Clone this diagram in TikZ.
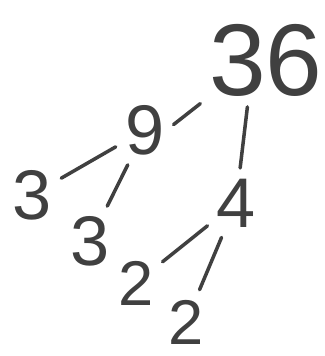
\documentclass[tikz,border=0pt]{standalone}
\usepackage{fontspec}
\setmainfont{Liberation Sans}
\usepackage{tikz}

\tikzset{
  num/.style={text=black!75, inner sep=1pt, font=\fontsize{40}{44}\selectfont},
  big/.style={num, font=\fontsize{58}{62}\selectfont},
  small/.style={num, font=\fontsize{36}{40}\selectfont},
  branch/.style={draw=black!75, line width=2pt, line cap=round, shorten <=5pt, shorten >=5pt}
}

\begin{document}
\begin{tikzpicture}[x=0.02cm, y=-0.02cm]
\useasboundingbox (0,0) rectangle (325,356);
\node[big] (r) at (266,60) {36};
\node[num] (a) at (145,130) {9};
\node[num] (b) at (236,203) {4};
\node[num] (a1) at (32,195) {3};
\node[num] (a2) at (90,241) {3};
\node[small] (b1) at (136,283) {2};
\node[small] (b2) at (186,322) {2};

\coordinate (rs) at ([xshift=-10pt]r.south);
\draw[branch] (r.south west) -- (a.east);
\draw[branch] (rs) -- (b);
\draw[branch] (a) -- (a1);
\draw[branch] (a) -- (a2);
\draw[branch] (b) -- (b1);
\draw[branch] (b) -- (b2);
\end{tikzpicture}
\end{document}
